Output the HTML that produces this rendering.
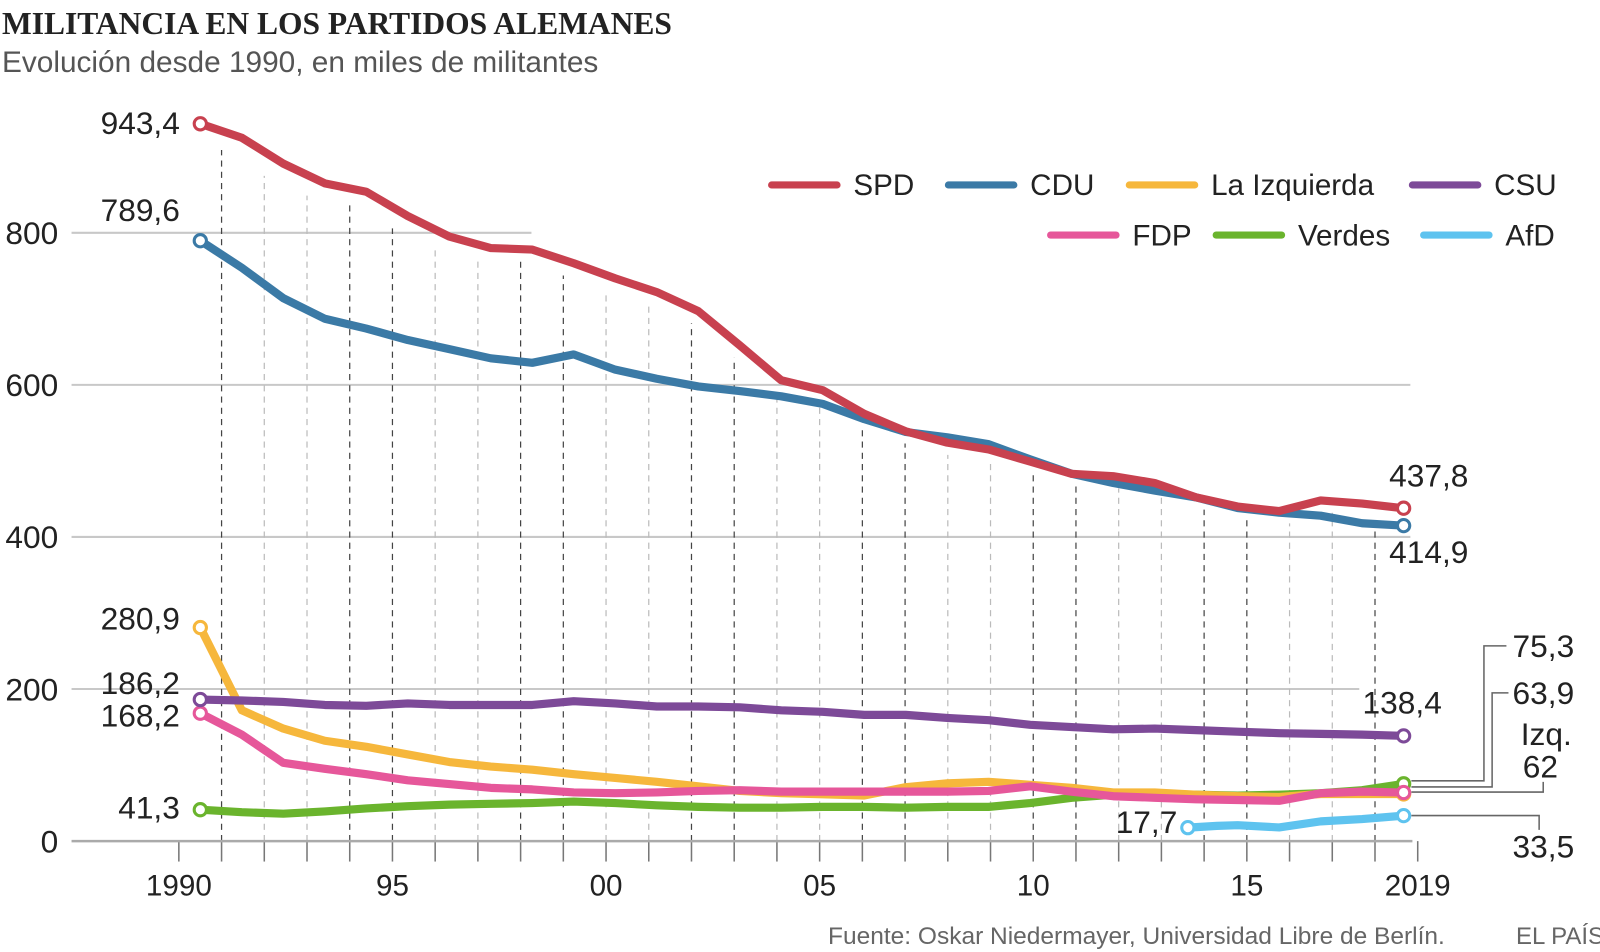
<!DOCTYPE html>
<html><head><meta charset="utf-8">
<style>
body{margin:0;background:#fff;}
svg{display:block;font-family:"Liberation Sans",sans-serif;}
</style></head>
<body>
<svg id="chart" width="1600" height="952" viewBox="0 0 1600 952">
<text x="2" y="34" font-family="Liberation Serif,serif" font-weight="bold" font-size="31.5" fill="#222">MILITANCIA EN LOS PARTIDOS ALEMANES</text>
<text x="2" y="72" font-size="29.8" fill="#555">Evolución desde 1990, en miles de militantes</text>
<g transform="scale(1.022)">
<g id="grid"></g>
<g id="series"></g>
<g id="labels" font-size="31" fill="#222"></g>
<g id="legend" font-size="29" fill="#222"></g>
</g>
<text x="828" y="944" font-size="24.5" fill="#666">Fuente: Oskar Niedermayer, Universidad Libre de Berlín.</text>
<text x="1516" y="944" font-size="24" fill="#666">EL PAÍS</text>
</svg>
<script>
const years = [1990,1991,1992,1993,1994,1995,1996,1997,1998,1999,2000,2001,2002,2003,2004,2005,2006,2007,2008,2009,2010,2011,2012,2013,2014,2015,2016,2017,2018,2019];
const spd = [943.4,925,891,865,854,822,795,780,778,760,740,722,697,652,606,593,562,539,524,515,499,483,480,471,452,440,434,448,444,437.8];
const cdu = [789.6,754,714,687,674,659,647,635,629,640,620,608,598,592,585,575,555,538,531,522,502,483,471,461,452,438,432,428,418,414.9];
const izq = [280.9,172,148,132,124,114,104,98,94,88,83,78,72,66,63,61.5,60,71,76,78,74,70,64,64,61,59,58,62,62,62];
const csu = [186.2,185,183,179,178,181,179,179,179,184,181,177,177,176,172,170,166,166,162,159,153,150,147,148,146,144,142,141,140,138.4];
const fdp = [168.2,140,103,95,88,80,75,70,68,64,63,64,66,67,65,65,65,65,65,66,72,65,59,57,55,54,53,63,65,63.9];
const verdes = [41.3,38,36,39,43,46,48,49,50,52,50,47,45,44,44,45,45,44,45,45,50,57,61,62,61,60,61,63,67,75.3];
const afdYears = [2013.8,2014.5,2015,2016,2017,2018,2019];
const afd = [17.7,20,21,18,26,29,33.5];
const yTicks = [0,200,400,600,800];
const xTickLabels = ["1990","95","00","05","10","15","2019"];
const xTickYears = [1990,1995,2000,2005,2010,2015,2019];

const NS="http://www.w3.org/2000/svg";
const X = yr => 196 + (yr-1990)*40.6;
const TX = yr => 175 + (yr-1990)*41.8;
const Y = v => 823 - v*0.744;
function mk(tag, attrs, parent){const e=document.createElementNS(NS,tag);for(const k in attrs)e.setAttribute(k,attrs[k]);parent.appendChild(e);return e;}
const grid=document.getElementById('grid'), ser=document.getElementById('series'), lab=document.getElementById('labels'), leg=document.getElementById('legend');

yTicks.forEach(v=>{
  if(v>0){const ln=mk('line',{x1:70,x2:v===800?520:(v===200?1330:1380),y1:Y(v),y2:Y(v),stroke:'#c8c8c8','stroke-width':2},grid);
  
  }
  const t=mk('text',{x:57,y:Y(v)+11,'text-anchor':'end','font-size':31,fill:'#222'},grid);
  t.textContent=v;
  
  
});
for(let yr=1991; yr<=2018; yr++){
  const x=TX(yr); const idx=Math.min(29,Math.max(0,Math.round((x-196)/40.6)));
  const dark=((yr-1991)%4===0||(yr-1991)%4===3);
  const d=mk('line',{x1:x,x2:x,y1:823,y2:Y(spd[idx])+12,stroke:dark?'#444':'#bbb','stroke-width':1.2,'stroke-dasharray':'6,5'},grid);
  
  
}
for(let yr=1990; yr<=2019; yr++){
  const tk=mk('line',{x1:TX(yr),x2:TX(yr),y1:823,y2:843,stroke:'#777','stroke-width':1.5},grid);
  
  
}
const ax=mk('line',{x1:70,x2:1382,y1:823,y2:823,stroke:'#aaa','stroke-width':2.5},grid);


xTickYears.forEach((yr,i)=>{
  const t=mk('text',{x:TX(yr),y:876,'text-anchor':'middle','font-size':29,fill:'#222'},grid);
  t.textContent=xTickLabels[i];
  
  
});

const seriesList=[
 ['verdes',verdes,years,'#6ab42d'],['afd',afd,afdYears,'#5ec3ef'],['izquierda',izq,years,'#f6b73c'],
 ['fdp',fdp,years,'#e6579a'],['csu',csu,years,'#7d4a98'],['cdu',cdu,years,'#3b7aa6'],['spd',spd,years,'#c8414f']];
seriesList.forEach(([name,vals,xs,col])=>{
  const pts=vals.map((v,i)=>X(xs[i]).toFixed(1)+','+Y(v).toFixed(1)).join(' ');
  const pl=mk('polyline',{points:pts,fill:'none',stroke:col,'stroke-width':8,'stroke-linejoin':'round','stroke-linecap':'round'},ser);
  
  
  [0,vals.length-1].forEach(i=>{
    const c=mk('circle',{cx:X(xs[i]),cy:Y(vals[i]),r:6,fill:'#fff',stroke:col,'stroke-width':3},ser);
    
    
  });
});

function txt(s,x,y,anchor,name){const t=mk('text',{x:x,y:y,'text-anchor':anchor||'start'},lab);t.textContent=s;
 
 return t;}
txt('943,4',176,131,'end','label-spd-start');
txt('789,6',176,216,'end','label-cdu-start');
txt('280,9',176,616,'end','label-izq-start');
txt('186,2',176,679,'end','label-csu-start');
txt('168,2',176,711,'end','label-fdp-start');
txt('41,3',176,801,'end','label-verdes-start');
txt('17,7',1152,815,'end','label-afd-start');
txt('437,8',1398,476,'middle','label-spd-end');
txt('414,9',1398,551,'middle','label-cdu-end');
txt('138,4',1372,698,'middle','label-csu-end');
txt('75,3',1480,643,'start','label-verdes-end');
txt('63,9',1480,689,'start','label-fdp-end');
txt('Izq.',1488,729,'start','label-izq-name');
txt('62',1490,761,'start','label-izq-end');
txt('33,5',1480,839,'start','label-afd-end');
const leaders=[
 ['leader-verdes','1381,764 1452,764 1452,632 1474,632'],
 ['leader-fdp','1381,770 1460,770 1460,678 1476,678'],
 ['leader-izq','1381,775 1510,775 1510,765'],
 ['leader-afd','1381,798 1506,798 1506,812']];
leaders.forEach(([n,p])=>{const l=mk('polyline',{points:p,fill:'none',stroke:'#666','stroke-width':1.5},lab);
 
 });

const legendItems=[['SPD','#c8414f',755,181],['CDU','#3b7aa6',928,181],['La Izquierda','#f6b73c',1105,181],['CSU','#7d4a98',1382,181],
 ['FDP','#e6579a',1028,230],['Verdes','#6ab42d',1190,230],['AfD','#5ec3ef',1393,230]];
legendItems.forEach(([n,c,x,y])=>{
 const g=mk('g',{},leg);
 
 
 mk('line',{x1:x,x2:x+64,y1:y,y2:y,stroke:c,'stroke-width':7,'stroke-linecap':'round'},g);
 const t=mk('text',{x:x+80,y:y+10},g);t.textContent=n;
});
</script>
</body></html>
